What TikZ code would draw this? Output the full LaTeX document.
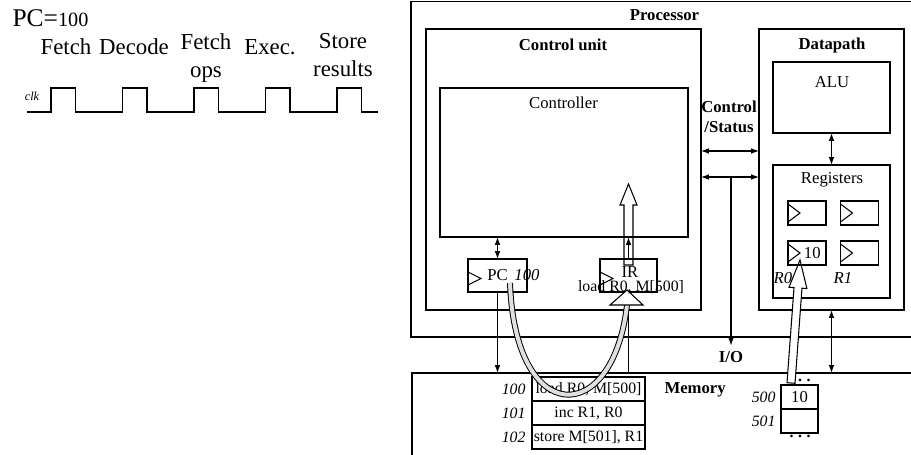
\documentclass[tikz,border=0pt]{standalone}
\usepackage{fontspec}
\setmainfont{Liberation Serif}
\usetikzlibrary{arrows.meta,calc,positioning}
\newcommand{\pxu}{0.02cm}

\tikzset{
  unit/.style={draw, rectangle, inner sep=0pt, outer sep=0pt, line width=0.7pt},
  regcell/.style={draw, rectangle, inner sep=0pt, outer sep=0pt, minimum width=38*\pxu, minimum height=24*\pxu, font=\fontsize{9.5}{11}\selectfont},
  memcell/.style={draw, rectangle, inner sep=0pt, outer sep=0pt, minimum width=113*\pxu, minimum height=24*\pxu, font=\fontsize{9}{11}\selectfont},
  datacell/.style={draw, rectangle, inner sep=0pt, outer sep=0pt, minimum width=37*\pxu, minimum height=24*\pxu, font=\fontsize{9.5}{11}\selectfont},
  title/.style={inner sep=0pt, align=center, font=\bfseries\fontsize{9.5}{11.3}\selectfont},
  lbl/.style={inner sep=0pt, font=\fontsize{9.5}{11}\selectfont},
  addr/.style={inner sep=0pt, font=\itshape\fontsize{9}{11}\selectfont},
  stage/.style={inner sep=0pt, align=center, font=\fontsize{13}{15.9}\selectfont},
  dotrow/.style={inner sep=0pt, font=\bfseries\fontsize{9}{11}\selectfont},
  band/.style={line width=0.55pt, double=gray!25, double distance=4*\pxu}
}

\begin{document}
\begin{tikzpicture}[x=0.02cm, y=-0.02cm, line width=0.6pt, >={Latex[length=4.5pt,width=3.2pt]}]
  % Frame
  \clip (0,0) rectangle (911,455);

  % Clock and stages
  \node[anchor=base west, inner sep=0pt] (pceq) at (12,27)
    {{\fontsize{14.5}{16}\selectfont PC=}{\fontsize{11.5}{13}\selectfont 100}};
  \node[stage, anchor=base] (fetch) at (66,55) {Fetch};
  \node[stage, anchor=base] (decode) at (134,55) {Decode};
  \node[stage, anchor=north] (fetchops) at (206,33.3) {Fetch\\ops};
  \node[stage, anchor=base] (exec) at (270,55) {Exec.};
  \node[stage, anchor=north] (store) at (343,32.5) {Store\\results};
  \node[inner sep=0pt, font=\itshape\fontsize{7}{8}\selectfont] (clk) at (32,96) {clk};
  \draw (27,112) foreach \k in {0,...,4} {
    -- (51+71.5*\k,112) -- (51+71.5*\k,88) -- (75.5+71.5*\k,88) -- (75.5+71.5*\k,112)}
    -- (378,112);

  % Processor
  \node[unit, minimum width=519*\pxu, minimum height=335.5*\pxu] (proc) at (670.5,169.25) {};
  \node[title] (proclbl) at (664.5,15) {Processor};

  % Control unit
  \node[unit, minimum width=275*\pxu, minimum height=281*\pxu] (cu) at (563.5,169.5) {};
  \node[title] (culbl) at (563,45) {Control unit};
  \node[unit, minimum width=248*\pxu, minimum height=149*\pxu] (ctrl) at (564,162.5) {};
  \node[lbl] (ctrllbl) at (563.5,103) {Controller};
  \node[unit, minimum width=59*\pxu, minimum height=33*\pxu, font=\fontsize{9.5}{11}\selectfont] (pc) at (497.5,275.5) {PC};
  \node[addr, font=\itshape\fontsize{9.5}{11}\selectfont] (pcval) at (527,275) {100};
  \node[unit, minimum width=57*\pxu, minimum height=33*\pxu] (ir) at (628.5,275.5) {};
  \node[lbl] (irlbl) at (630,272) {IR};

  % Datapath
  \node[unit, minimum width=145*\pxu, minimum height=281*\pxu] (dp) at (831.5,169.5) {};
  \node[title] (dplbl) at (832,45) {Datapath};
  \node[unit, minimum width=117*\pxu, minimum height=71*\pxu] (alu) at (831.5,97.5) {};
  \node[lbl] (alulbl) at (832,82) {ALU};
  \node[unit, minimum width=117*\pxu, minimum height=133*\pxu] (regs) at (831.5,231.5) {};
  \node[lbl] (regslbl) at (832,180) {Registers};

  % Memory
  \node[unit, minimum width=518*\pxu, minimum height=97*\pxu] (mem) at (671,421.5) {};
  \node[title, anchor=west] (memlbl) at (664,390) {Memory};
  \node[memcell] (m100) at (588.5,389) {load R0, M[500]};
  \node[memcell, below=0pt of m100] (m101) {inc R1, R0};
  \node[memcell, below=0pt of m101] (m102) {store M[501], R1};
  \node[addr, left=0.12cm of m100] (a100) {100};
  \node[addr, left=0.12cm of m101] (a101) {101};
  \node[addr, left=0.12cm of m102] (a102) {102};
  \node[datacell] (d500) at (799.5,397) {10};
  \node[datacell, below=0pt of d500] (d501) {};
  \node[addr, left=0.1cm of d500] (a500) {500};
  \node[addr, left=0.1cm of d501] (a501) {501};
  \node[dotrow] (dotsup) at (800,380) {.\hspace{2.6pt}.\hspace{2.6pt}.};
  \node[dotrow] (dotsdown) at (800,436) {.\hspace{2.6pt}.\hspace{2.6pt}.};

  % Buses
  \node[title] (cslbl) at (729,117) {Control\\/Status};
  \node[title, inner sep=3pt] (io) at (731,357) {I/O};
  \coordinate (bus1) at (730,151);
  \coordinate (bus2) at (731,177);
  \draw[<->] (cu.east |- bus1) -- (dp.west |- bus1);
  \draw[<->] (cu.east |- bus2) -- (dp.west |- bus2);
  \draw[->] (bus2) -- (io.north);
  \draw[<->] (alu.south) -- (regs.north);
  \draw[<->] (dp.south) -- (dp.south |- mem.north);
  \draw[<->] (pc.north) -- (pc.north |- ctrl.south);
  \draw[->] (pc.south) -- (pc.south |- mem.north);
  \draw[->] (ir.north) -- (ir.north |- ctrl.south);
  \draw (ir.south) -- (ir.south |- mem.north);

  % Hollow arrows
  \begin{scope}[shift={(ir.north)}]
    \draw (-4.5,6) -- (-4.5,-54) -- (-8.5,-54) -- (0,-75) -- (8.5,-54) -- (4.5,-54) -- (4.5,6) -- cycle;
  \end{scope}
  \draw[band] ($(pc.south)+(12.5,-9)$) .. controls ($(pc.south)+(17.5,136)$)
    and ($(ir.south)+(-15.5,136)$) .. ($(ir.south)+(-1.5,13)$);
  \draw[fill=white] ($(ir.south)+(-1.5,-2)$) -- ($(ir.south)+(-18.5,13)$) -- ($(ir.south)+(14.5,13)$) -- cycle;
  \begin{scope}[shift={(d500.north)}]
    \draw[fill=white] (-12.5,-2.3) -- (-5.5,-97.4) -- (-10.5,-97.75) -- (0.5,-125)
      -- (7.4,-96.4) -- (2.45,-96.8) -- (-4.5,-1.7) -- cycle;
  \end{scope}

  % Registers
  \node[regcell] (r00) at (807,213) {};
  \node[regcell] (r01) at (859.5,213) {};
  \node[regcell] (r0) at (807,253) {\hspace{6pt}10};
  \node[regcell] (r1) at (859.5,253) {};
  \node[addr, font=\itshape\fontsize{9.5}{11}\selectfont] (r0lbl) at (783,278) {R0};
  \node[addr, font=\itshape\fontsize{9.5}{11}\selectfont] (r1lbl) at (843,278) {R1};
  \foreach \r in {r00,r01,r0,r1}
    \draw (\r.west) ++(0,5.1pt) -- ++(6.8pt,-5.1pt) -- ++(-6.8pt,-5.1pt);
  \foreach \r in {pc,ir}
    \draw ([yshift=-1.7pt]\r.west) ++(0,3.7pt) -- ++(7.4pt,-3.7pt) -- ++(-7.4pt,-3.7pt);

  % Instruction in IR
  \node[lbl, font=\fontsize{9}{11}\selectfont] (irval) at (631,287) {load R0, M[500]};
\end{tikzpicture}
\end{document}
